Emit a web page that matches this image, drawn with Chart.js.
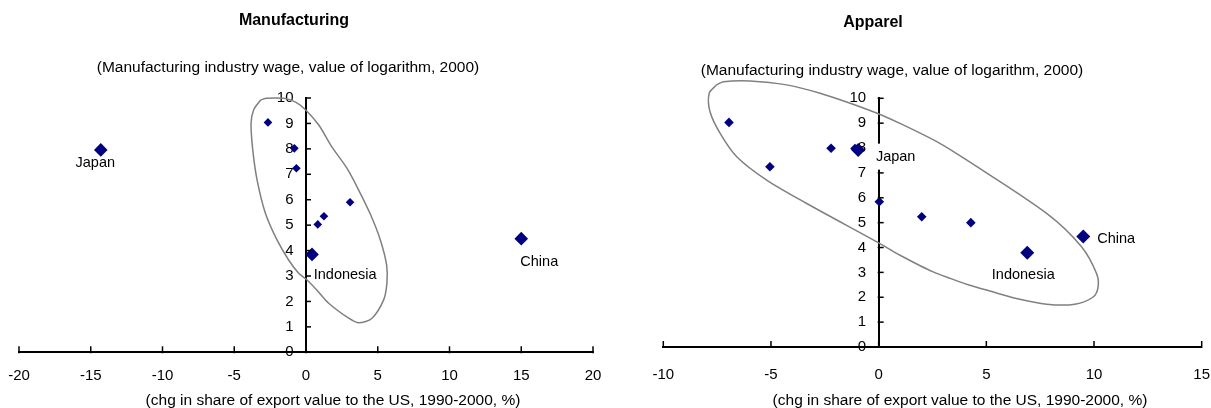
<!DOCTYPE html>
<html>
<head>
<meta charset="utf-8">
<script src="https://cdn.jsdelivr.net/npm/chart.js@4.4.1/dist/chart.umd.min.js"></script>
<style>
  body { margin: 0; background: #fff; font-family: 'Liberation Sans', Arial, sans-serif; }
  #page { position: relative; width: 1211px; height: 408px; overflow: hidden; background: #fff; }
  .box { position: absolute; top: 0; height: 408px; }
  .txt { position: absolute; white-space: nowrap; line-height: 1; color: #000; transform: translateX(-50%); }
  .title { font-size: 16px; font-weight: bold; }
  .sub { font-size: 15.5px; }
</style>
</head>
<body>
<div id="page">
  <div class="box" style="left:0;width:605px"><canvas id="chartMfg" width="605" height="408"></canvas></div>
  <div class="box" style="left:605px;width:606px"><canvas id="chartApp" width="606" height="408"></canvas></div>

  <div class="txt title" style="left:294px;top:12px">Manufacturing</div>
  <div class="txt sub" style="left:288px;top:59px">(Manufacturing industry wage, value of logarithm, 2000)</div>
  <div class="txt sub" style="left:333px;top:392px">(chg in share of export value to the US, 1990-2000, %)</div>

  <div class="txt title" style="left:873px;top:14px">Apparel</div>
  <div class="txt sub" style="left:892px;top:62px">(Manufacturing industry wage, value of logarithm, 2000)</div>
  <div class="txt sub" style="left:960px;top:392px">(chg in share of export value to the US, 1990-2000, %)</div>
</div>

<script>
// Manufacturing: unlabelled economies
const mfgOtherX = [-2.65, -0.81, -0.67, 3.07, 1.25, 0.82];
const mfgOtherY = [9.04, 8.02, 7.24, 5.90, 5.35, 5.03];
// Manufacturing: labelled economies
const mfgCountries = ['Japan', 'Indonesia', 'China'];
const mfgCountryX = [-14.3, 0.42, 15.0];
const mfgCountryY = [7.96, 3.85, 4.47];
// Manufacturing: hand drawn loop around the cluster
const mfgLoopX = [-3.16, -2.74, -1.55, -0.72, -0.02, 0.89, 1.79, 2.84, 3.67, 4.51, 5.18, 5.62, 5.64, 5.41, 4.60, 3.67, 2.98, 1.58, 0.75, 0.00, -0.51, -1.21, -2.02, -2.83, -3.41, -3.71, -3.83, -3.65, -3.16];
const mfgLoopY = [9.92, 9.99, 9.99, 9.84, 9.53, 8.94, 8.09, 7.25, 6.38, 5.40, 4.42, 3.43, 2.73, 2.06, 1.34, 1.16, 1.34, 1.93, 2.45, 2.88, 3.11, 3.63, 4.42, 5.47, 6.78, 7.96, 9.01, 9.53, 9.92];
const mfgXTicks = [-20, -15, -10, -5, 0, 5, 10, 15, 20];

// Apparel
const appOtherX = [-6.95, -5.05, -2.21, -1.1, 0.03, 2.0, 4.28];
const appOtherY = [9.03, 7.25, 7.99, 7.98, 5.84, 5.24, 5.0];
const appCountries = ['Japan', 'Indonesia', 'China'];
const appCountryX = [-0.95, 6.9, 9.5];
const appCountryY = [7.92, 3.79, 4.44];
const appLoopX = [-7.52, -7.21, -5.97, -4.27, -2.72, -0.25, 0.99, 2.84, 4.08, 7.80, 9.42, 10.12, 10.19, 9.96, 9.11, 7.80, 6.40, 5.16, 4.24, 2.53, 0.99, 0.06, -3.34, -5.20, -6.59, -7.36, -7.83, -7.87, -7.52];
const appLoopY = [10.54, 10.67, 10.70, 10.54, 10.20, 9.46, 8.99, 8.19, 7.52, 5.37, 4.03, 2.95, 2.42, 2.01, 1.72, 1.72, 1.95, 2.25, 2.48, 3.02, 3.69, 4.16, 5.77, 6.71, 7.65, 8.59, 9.46, 10.20, 10.54];
const appXTicks = [-10, -5, 0, 5, 10, 15];

const yTicks = [0, 1, 2, 3, 4, 5, 6, 7, 8, 9, 10];

const navy = '#000080';
const fontFamily = "'Liberation Sans', Arial, sans-serif";

Chart.defaults.font.family = fontFamily;
Chart.defaults.color = '#000';

function toPoints(xs, ys){
    return xs.map((x, i) => ({x: x, y: ys[i]}));
}

// inside tick marks + country labels
const extrasPlugin = {
    id: 'extras',
    afterDatasetsDraw(chart, args, opts){
        const ctx = chart.ctx;
        const xs = chart.scales.x;
        const ys = chart.scales.y;
        const y0 = ys.getPixelForValue(0);
        const x0 = xs.getPixelForValue(0);

        ctx.save();
        ctx.strokeStyle = '#000';
        ctx.lineWidth = 1.5;
        xs.ticks.forEach(t => {
            const px = xs.getPixelForValue(t.value);
            ctx.beginPath();
            ctx.moveTo(px, y0 - 6);
            ctx.lineTo(px, y0 + 1);
            ctx.stroke();
        });
        ys.ticks.forEach(t => {
            const py = ys.getPixelForValue(t.value);
            ctx.beginPath();
            ctx.moveTo(x0 - 1, py);
            ctx.lineTo(x0 + 5, py);
            ctx.stroke();
        });

        const meta = chart.getDatasetMeta(2);
        ctx.font = '14.5px ' + fontFamily;
        ctx.textBaseline = 'middle';
        opts.names.forEach((name, i) => {
            const pt = meta.data[i];
            const st = opts.styles[i];
            const tx = pt.x + st.dx;
            const ty = pt.y + st.dy;
            ctx.textAlign = st.align;
            if (st.bg) {
                const w = ctx.measureText(name).width;
                let left = tx - 3;
                if (st.align === 'center') left = tx - w / 2 - 3;
                ctx.fillStyle = '#fff';
                ctx.fillRect(left, ty - 13, w + 6, 26);
            }
            ctx.fillStyle = '#000';
            ctx.fillText(name, tx, ty);
        });
        ctx.restore();
    }
};

function makeChart(canvasId, cfg){
    const ctx = document.getElementById(canvasId).getContext('2d');

    return new Chart(ctx, {
        type: 'scatter',
        data: {
            datasets: [{
                data: toPoints(cfg.loopX, cfg.loopY),
                showLine: true,
                borderColor: '#808080',
                borderWidth: 1.5,
                pointRadius: 0,
                tension: 0.3,
                fill: false,
                clip: false
            }, {
                data: toPoints(cfg.otherX, cfg.otherY),
                pointStyle: 'rectRot',
                pointRadius: cfg.smallR,
                backgroundColor: navy,
                borderColor: navy,
                borderWidth: 0
            }, {
                data: toPoints(cfg.countryX, cfg.countryY),
                pointStyle: 'rectRot',
                pointRadius: cfg.bigR,
                backgroundColor: navy,
                borderColor: navy,
                borderWidth: 0
            }]
        },
        options: {
            responsive: false,
            animation: false,
            devicePixelRatio: 1,
            events: [],
            layout: {
                padding: cfg.padding
            },
            scales: {
                x: {
                    type: 'linear',
                    position: 'bottom',
                    min: cfg.xTicks[0],
                    max: cfg.xTicks[cfg.xTicks.length - 1],
                    afterBuildTicks: s => { s.ticks = cfg.xTicks.map(v => ({value: v})); },
                    afterFit: s => {
                        s.height = cfg.xHeight;
                        s.paddingLeft = 0;
                        s.paddingRight = 0;
                    },
                    grid: { display: false, drawTicks: false },
                    border: { display: true, color: '#000', width: 2 },
                    ticks: {
                        color: '#000',
                        padding: cfg.xPad,
                        maxRotation: 0,
                        autoSkip: false,
                        font: { size: 15 }
                    }
                },
                y: {
                    type: 'linear',
                    position: { x: 0 },
                    min: 0,
                    max: 10,
                    afterBuildTicks: s => { s.ticks = yTicks.map(v => ({value: v})); },
                    afterFit: s => {
                        s.width = 0;
                        s.paddingTop = 0;
                        s.paddingBottom = 0;
                    },
                    grid: { display: false, drawTicks: false },
                    border: { display: true, color: '#000', width: 2 },
                    ticks: {
                        color: '#000',
                        autoSkip: false,
                        font: { size: 15 },
                        // labels sit right on the centred axis, so keep a gap with spaces
                        callback: v => v + '   '
                    }
                }
            },
            plugins: {
                legend: { display: false },
                tooltip: { enabled: false },
                extras: {
                    names: cfg.names,
                    styles: cfg.labelStyles
                }
            }
        },
        plugins: [extrasPlugin]
    });
}

makeChart('chartMfg', {
    loopX: mfgLoopX, loopY: mfgLoopY,
    otherX: mfgOtherX, otherY: mfgOtherY,
    countryX: mfgCountryX, countryY: mfgCountryY,
    names: mfgCountries,
    xTicks: mfgXTicks,
    smallR: 4.3, bigR: 6.8,
    padding: { left: 19, right: 12, top: 98, bottom: 0 },
    xHeight: 55.7,
    xPad: 15,
    labelStyles: [
        { dx: -5.5, dy: 13.5, align: 'center' },
        { dx: 1.7, dy: 21, align: 'left' },
        { dx: 18, dy: 23.5, align: 'center' }
    ]
});

makeChart('chartApp', {
    loopX: appLoopX, loopY: appLoopY,
    otherX: appOtherX, otherY: appOtherY,
    countryX: appCountryX, countryY: appCountryY,
    names: appCountries,
    xTicks: appXTicks,
    smallR: 4.8, bigR: 7,
    padding: { left: 58.3, right: 9.3, top: 98.3, bottom: 0 },
    xHeight: 61,
    xPad: 19,
    labelStyles: [
        { dx: 17.7, dy: 6.6, align: 'left', bg: true },
        { dx: -4, dy: 22.3, align: 'center' },
        { dx: 14, dy: 2.5, align: 'left' }
    ]
});
</script>
</body>
</html>
